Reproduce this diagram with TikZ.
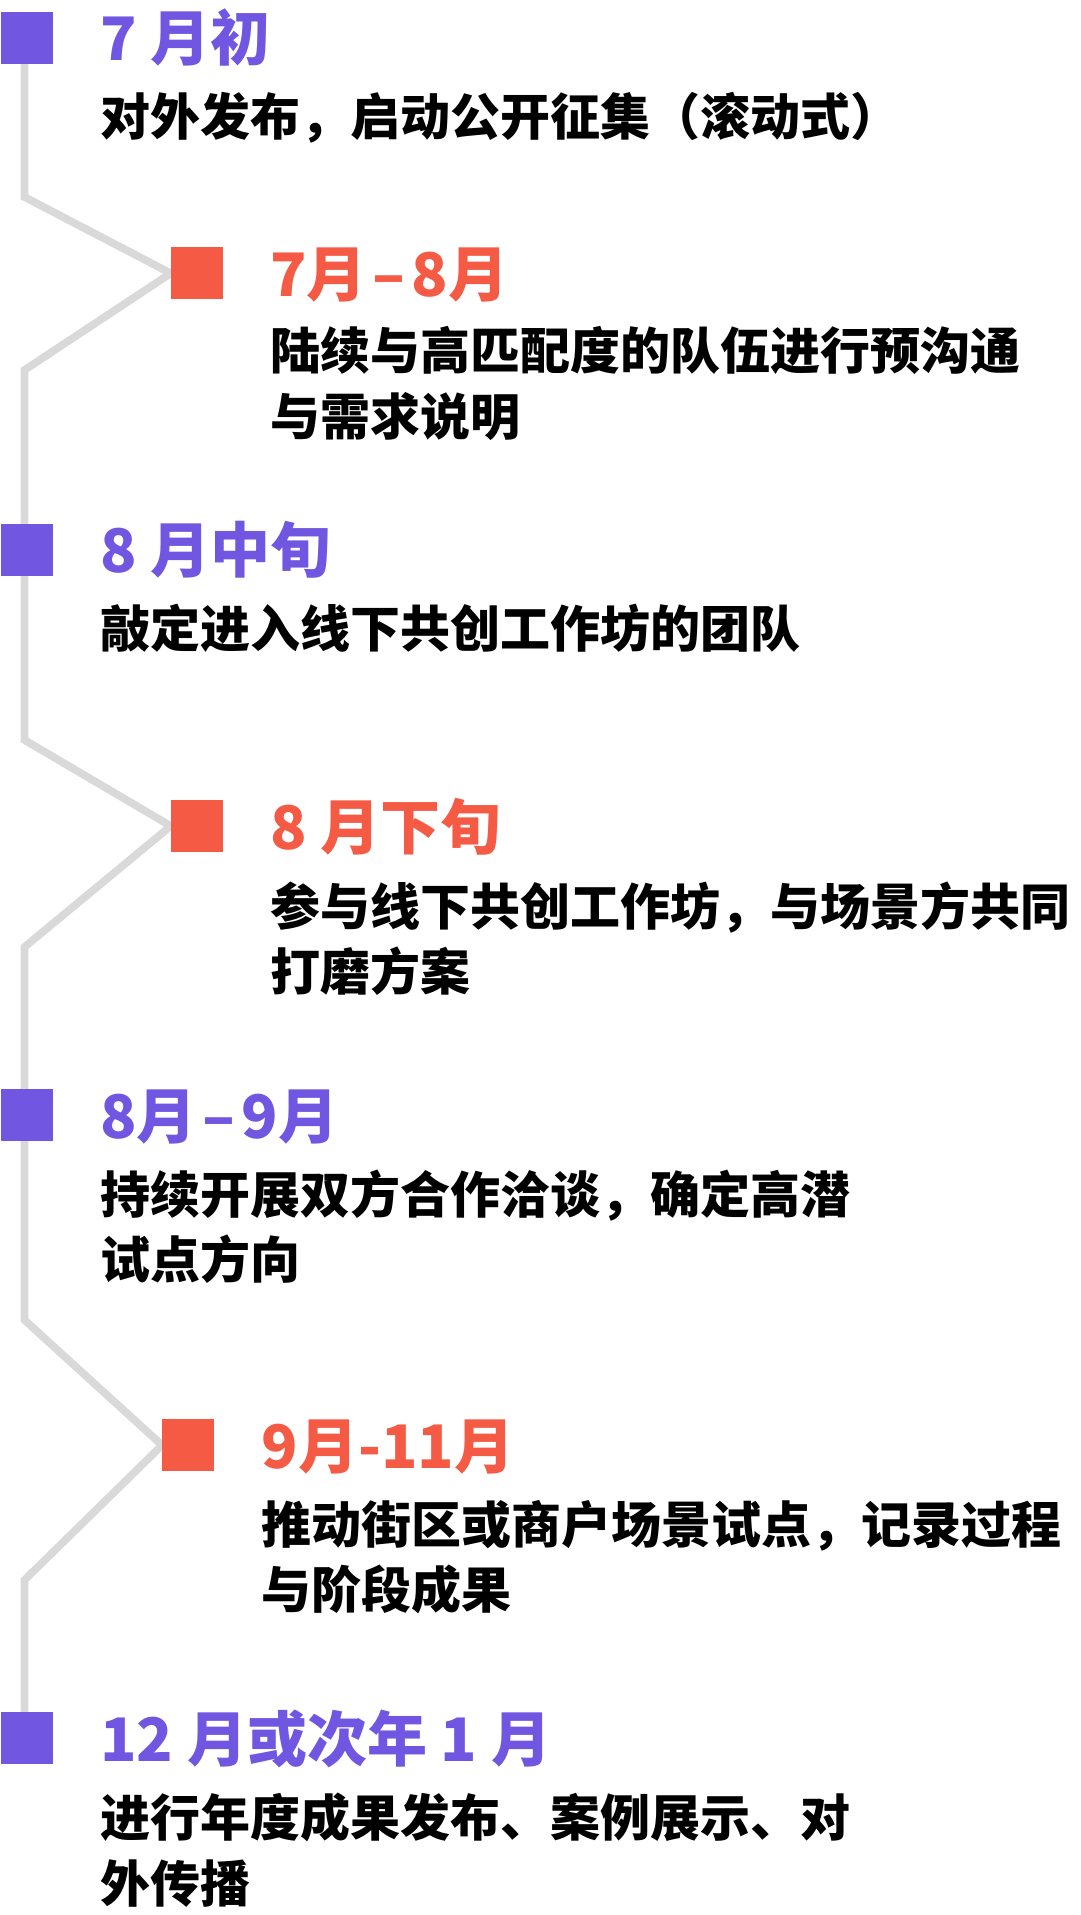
\documentclass[tikz,border=0pt]{standalone}
\usepackage{fontspec}
\newfontfamily\cjkfont{Noto Sans CJK SC}
\usepackage{tikz}
\usetikzlibrary{backgrounds}

\definecolor{tlpurple}{HTML}{7056E0}
\definecolor{tlorange}{HTML}{F45A44}
\definecolor{tlgray}{HTML}{D9D9D9}

\begin{document}
\begin{tikzpicture}[
    x=1pt, y=-1pt,
    milestone/.style={
      rectangle,
      minimum width=52pt,
      minimum height=52pt,
      inner sep=0pt,
      draw=none
    },
    when/.style={
      anchor=base west,
      inner sep=0pt,
      font=\cjkfont\bfseries\fontsize{60}{72}\selectfont
    },
    what/.style={
      anchor=base west,
      inner sep=0pt,
      align=left,
      font=\cjkfont\bfseries\fontsize{50}{65.5}\selectfont
    },
    track/.style={draw=tlgray, line width=7.7pt, line join=miter}
  ]
    \useasboundingbox (0,0) rectangle (1080,1915);

    % squares on the time line
    \node[milestone, fill=tlpurple] (p1) at (27,37.5) {};
    \node[milestone, fill=tlorange] (o1) at (197,273.3) {};
    \node[milestone, fill=tlpurple] (p2) at (27,549.7) {};
    \node[milestone, fill=tlorange] (o2) at (197,826) {};
    \node[milestone, fill=tlpurple] (p3) at (27,1115.2) {};
    \node[milestone, fill=tlorange] (o3) at (188.3,1445.2) {};
    \node[milestone, fill=tlpurple] (p4) at (27,1738.3) {};

    % bends of the line
    \coordinate (b1) at (24.5,197);
    \coordinate (b2) at (24.5,370);
    \coordinate (b3) at (24.5,740);
    \coordinate (b4) at (24.5,947);
    \coordinate (b5) at (24.5,1320);
    \coordinate (b6) at (24.5,1580);

    \begin{scope}[on background layer]
      \draw[track] (p1.center -| b1) -- (b1) -- (o1.west) -- (b2) -- (p2.center -| b2);
      \draw[track] (p2.center -| b3) -- (b3) -- (o2.west) -- (b4) -- (p3.center -| b4);
      \draw[track] (p3.center -| b5) -- (b5) -- (o3.west) -- (b6) -- (p4.center -| b6);
    \end{scope}

    % dates
    \node[when, text=tlpurple] (t1) at ([xshift=47pt,yshift=3pt]p1.south east) {7 月初};
    \node[when, text=tlorange] (t2) at ([xshift=47pt,yshift=3pt]o1.south east) {7月\kern6pt–\kern6pt8月};
    \node[when, text=tlpurple] (t3) at ([xshift=47pt,yshift=3pt]p2.south east) {8 月中旬};
    \node[when, text=tlorange] (t4) at ([xshift=47pt,yshift=3pt]o2.south east) {8 月下旬};
    \node[when, text=tlpurple] (t5) at ([xshift=47pt,yshift=3pt]p3.south east) {8月\kern6pt–\kern6pt9月};
    \node[when, text=tlorange] (t6) at ([xshift=47pt,yshift=3pt]o3.south east) {9月-11月};
    \node[when, text=tlpurple] (t7) at ([xshift=47pt,yshift=3pt]p4.south east) {12 月或次年 1 月};

    % descriptions (base of a two-line node is its last line)
    \node[what] (d1) at ([yshift=-75pt]t1.base west) {对外发布，启动公开征集（滚动式）};
    \node[what] (d2) at ([yshift=-138.5pt]t2.base west) {陆续与高匹配度的队伍进行预沟通\\与需求说明};
    \node[what] (d3) at ([yshift=-75pt]t3.base west) {敲定进入线下共创工作坊的团队};
    \node[what] (d4) at ([yshift=-141.5pt]t4.base west) {参与线下共创工作坊，与场景方共同\\打磨方案};
    \node[what] (d5) at ([yshift=-140.5pt]t5.base west) {持续开展双方合作洽谈，确定高潜\\试点方向};
    \node[what] (d6) at ([yshift=-140.5pt]t6.base west) {推动街区或商户场景试点，记录过程\\与阶段成果};
    \node[what] (d7) at ([yshift=-140.5pt]t7.base west) {进行年度成果发布、案例展示、对\\外传播};
  \end{tikzpicture}
\end{document}
